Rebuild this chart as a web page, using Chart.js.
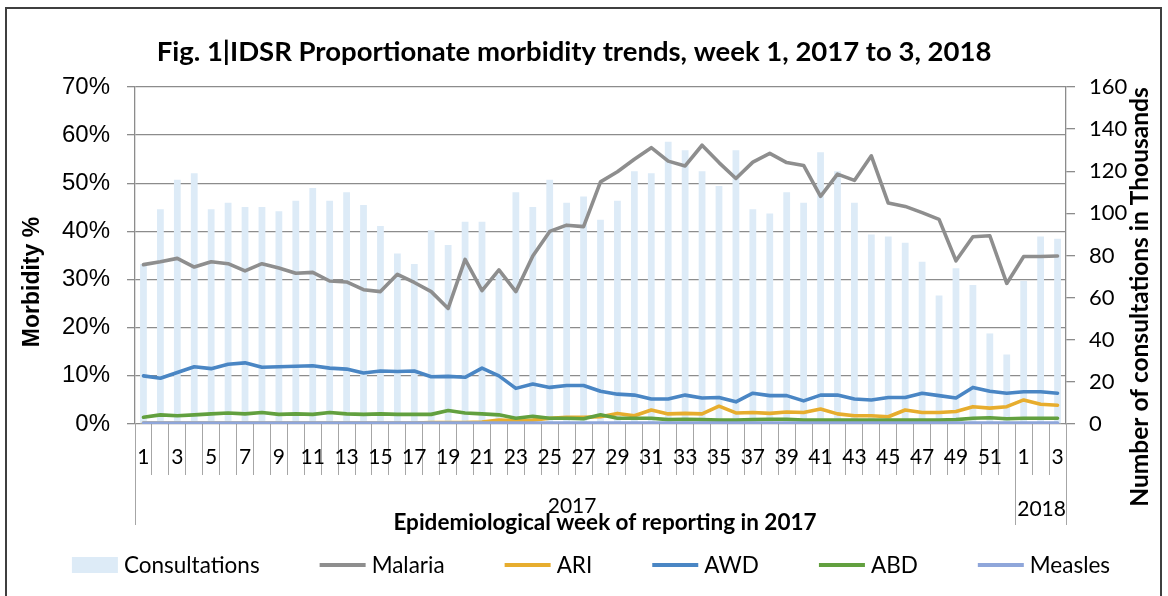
<!DOCTYPE html>
<html>
<head>
<meta charset="utf-8">
<script src="https://cdn.jsdelivr.net/npm/chart.js@4.4.0/dist/chart.umd.min.js"></script>
<style>
html,body{margin:0;padding:0;background:#fff;}
#wrap{width:1168px;height:596px;position:relative;overflow:hidden;}
</style>
</head>
<body>
<div id="wrap"><canvas id="c" width="1168" height="596"></canvas></div>
<script>
// ---- Data ----
const weekLabels = ['1','2','3','4','5','6','7','8','9','10','11','12','13','14','15','16','17','18','19','20',
  '21','22','23','24','25','26','27','28','29','30','31','32','33','34','35','36','37','38','39','40',
  '41','42','43','44','45','46','47','48','49','50','51','52','1','2','3'];
const yearGroups = ['2017','2018'];
const yearGroupCounts = [52, 3];

const consultations = [76,102,116,119,102,105,103,103,101,106,
  112,106,110,104,94,81,76,92,85,96,
  96,71,110,103,116,105,108,97,106,120,
  119,134,130,120,113,130,102,100,110,105,
  129,120,105,90,89,86,77,61,74,66,
  43,33,68,89,88];

const malaria = [33.1,33.7,34.4,32.6,33.7,33.3,31.8,33.3,32.4,31.3,
  31.5,29.7,29.5,27.9,27.5,31.1,29.4,27.5,24.0,34.2,
  27.7,32.0,27.5,34.9,40.0,41.3,41.0,50.3,52.4,55.0,
  57.4,54.6,53.6,57.9,54.3,51.0,54.4,56.2,54.3,53.7,
  47.3,51.9,50.6,55.7,45.9,45.2,43.9,42.5,33.9,38.9,
  39.1,29.2,34.8,34.8,34.9];

const ari = [0.2,0.2,0.2,0.2,0.2,0.2,0.2,0.2,0.2,0.2,
  0.2,0.2,0.2,0.2,0.2,0.2,0.2,0.3,0.3,0.3,
  0.4,0.8,0.7,0.8,1.2,1.4,1.4,1.5,2.2,1.7,
  2.9,2.1,2.2,2.1,3.7,2.3,2.4,2.2,2.5,2.4,
  3.1,2.1,1.7,1.7,1.5,2.9,2.4,2.4,2.6,3.6,
  3.3,3.6,5.0,4.1,3.9];

const awd = [10.0,9.5,10.7,11.9,11.5,12.4,12.7,11.8,11.9,12.0,
  12.1,11.6,11.4,10.6,11.0,10.9,11.0,9.8,9.9,9.7,
  11.6,10.0,7.4,8.3,7.6,8.0,8.0,6.8,6.2,6.0,
  5.2,5.2,6.0,5.4,5.5,4.6,6.4,5.9,5.9,4.8,
  6.0,6.0,5.2,5.0,5.5,5.5,6.4,5.9,5.4,7.6,
  6.8,6.4,6.7,6.7,6.4];

const abd = [1.4,1.9,1.7,1.9,2.1,2.3,2.1,2.4,2.0,2.1,
  2.0,2.4,2.1,2.0,2.1,2.0,2.0,2.0,2.8,2.3,
  2.1,1.9,1.2,1.6,1.2,1.2,1.1,1.9,1.2,1.2,
  1.2,0.9,1.0,0.9,0.8,0.8,0.9,1.0,1.0,0.8,
  0.8,0.8,0.8,0.8,0.8,0.8,0.8,0.8,0.9,1.2,
  1.3,1.1,1.2,1.2,1.2];

const measles = [0.2,0.2,0.2,0.2,0.2,0.2,0.2,0.2,0.2,0.2,
  0.2,0.2,0.2,0.2,0.2,0.2,0.2,0.2,0.2,0.2,
  0.2,0.2,0.2,0.2,0.2,0.2,0.2,0.2,0.2,0.2,
  0.2,0.2,0.2,0.2,0.2,0.2,0.2,0.2,0.2,0.2,
  0.2,0.2,0.2,0.2,0.2,0.2,0.2,0.2,0.2,0.2,
  0.2,0.2,0.2,0.2,0.2];

const leftTicksMax = 70, leftStep = 10;
const rightTicksMax = 160, rightStep = 20;

const titleText = 'Fig. 1|IDSR Proportionate morbidity trends, week 1, 2017 to 3, 2018';
const xTitle = 'Epidemiological week of reporting in 2017';
const yTitle = 'Morbidity %';
const y1Title = 'Number of consultations in Thousands';

// ---- Styles ----
const COL = {
  bar: '#DDEBF7', malaria: '#8E8E8E', ari: '#E7AD2E', awd: '#4A86C4',
  abd: '#62A03F', measles: '#8FA6DA', grid: '#8C8C8C', tick: '#A6A6A6'
};
const CAL = 'Lato, "Open Sans", sans-serif';
const ARIAL = '"Liberation Sans", Arial, sans-serif';

function lineDs(label, data, color, order) {
  return { type: 'line', label, data, yAxisID: 'y', borderColor: color, backgroundColor: color,
    borderWidth: 3.6, pointRadius: 0, pointHoverRadius: 0, tension: 0, order,
    borderJoinStyle: 'round', borderCapStyle: 'round', pointStyle: 'line' };
}

const extras = {
  id: 'extras',
  afterDraw(chart) {
    const ctx = chart.ctx;
    const xs = chart.scales.x;
    const ca = chart.chartArea;
    ctx.save();
    // frame
    ctx.strokeStyle = '#3F3F3F';
    ctx.lineWidth = 2;
    ctx.beginPath();
    ctx.moveTo(6, 600); ctx.lineTo(6, 8); ctx.lineTo(1161, 8); ctx.lineTo(1161, 600);
    ctx.stroke();

    // group dividers
    const half = (xs.getPixelForValue(1) - xs.getPixelForValue(0)) / 2;
    let idx = 0;
    const bounds = [xs.getPixelForValue(0) - half];
    yearGroupCounts.forEach(n => { idx += n; bounds.push(xs.getPixelForValue(idx - 1) + half); });
    ctx.strokeStyle = COL.tick;
    ctx.lineWidth = 1;
    bounds.forEach(b => {
      ctx.beginPath(); ctx.moveTo(Math.round(b) + 0.5, ca.bottom); ctx.lineTo(Math.round(b) + 0.5, 525); ctx.stroke();
    });
    ctx.fillStyle = '#000';
    ctx.textAlign = 'center';
    ctx.textBaseline = 'middle';
    ctx.font = '21px ' + CAL;
    yearGroups.forEach((g, i) => {
      ctx.fillText(g, (bounds[i] + bounds[i + 1]) / 2 + (i === 1 ? 1 : -3), i === 0 ? 506 : 509);
    });

    // axis titles
    ctx.font = 'bold 22.5px ' + CAL;
    ctx.fillText(xTitle, 605, 523);

    ctx.save();
    ctx.translate(33, 282);
    ctx.rotate(-Math.PI / 2);
    ctx.font = 'bold 23px ' + ARIAL;
    ctx.fillText(yTitle, 0, 0);
    ctx.restore();

    ctx.save();
    ctx.translate(1140, 297);
    ctx.rotate(-Math.PI / 2);
    ctx.font = 'bold 24.5px ' + CAL;
    ctx.fillText(y1Title, 0, 0);
    ctx.restore();

    // title
    ctx.font = 'bold 27.5px ' + CAL;
    ctx.fillText(titleText, 574, 52);

    // legend
    const order = [5, 0, 1, 2, 3, 4];
    ctx.font = '22.5px ' + CAL;
    const boxW = 46, gapT = 6, spacing = 60;
    const widths = order.map(i => boxW + gapT + ctx.measureText(chart.data.datasets[i].label).width);
    const total = widths.reduce((a, b) => a + b, 0) + spacing * (order.length - 1);
    let x = 591 - total / 2;
    const ly = 565;
    ctx.textAlign = 'left';
    order.forEach((i, k) => {
      const ds = chart.data.datasets[i];
      if (ds.type === 'bar') {
        ctx.fillStyle = ds.backgroundColor;
        ctx.fillRect(x, ly - 8, boxW, 16);
      } else {
        ctx.strokeStyle = ds.borderColor;
        ctx.lineWidth = 4;
        ctx.lineCap = 'butt';
        ctx.beginPath(); ctx.moveTo(x, ly); ctx.lineTo(x + boxW, ly); ctx.stroke();
      }
      ctx.fillStyle = '#000';
      ctx.fillText(ds.label, x + boxW + gapT, ly + 1);
      x += widths[k] + spacing;
    });
    ctx.restore();
  }
};

function build() {
  new Chart(document.getElementById('c'), {
    type: 'bar',
    data: {
      labels: weekLabels,
      datasets: [
        lineDs('Malaria', malaria, COL.malaria, 5),
        lineDs('ARI', ari, COL.ari, 4),
        lineDs('AWD', awd, COL.awd, 3),
        lineDs('ABD', abd, COL.abd, 2),
        lineDs('Measles', measles, COL.measles, 1),
        { type: 'bar', label: 'Consultations', data: consultations, yAxisID: 'y1',
          backgroundColor: COL.bar, borderWidth: 0, barPercentage: 0.4, categoryPercentage: 1,
          order: 10, pointStyle: 'rect' }
      ]
    },
    options: {
      responsive: false,
      animation: false,
      events: [],
      layout: { padding: { top: 87, left: 0, right: 0, bottom: 0 } },
      plugins: { legend: { display: false }, title: { display: false }, tooltip: { enabled: false } },
      scales: {
        x: {
          offset: true,
          grid: { offset: true, drawOnChartArea: false, drawTicks: true, tickLength: 51, color: COL.tick, lineWidth: 1 },
          border: { display: false },
          ticks: { autoSkip: false, maxRotation: 0, minRotation: 0, padding: -30, color: '#000',
            font: { family: CAL, size: 21 },
            callback: (v, i) => (i % 2 === 0 ? weekLabels[i] : '') },
          afterFit: s => { s.height = 172; }
        },
        y: {
          position: 'left', min: 0, max: leftTicksMax,
          grid: { color: COL.grid, lineWidth: 1.3, tickLength: 8, drawTicks: true },
          border: { display: true, color: COL.grid, width: 1.3 },
          ticks: { stepSize: leftStep, padding: 17, color: '#000', font: { family: ARIAL, size: 24 },
            callback: v => v + '%' },
          afterFit: s => { s.width = 135; }
        },
        y1: {
          position: 'right', min: 0, max: rightTicksMax,
          grid: { drawOnChartArea: false, tickLength: 9, color: COL.grid, lineWidth: 1.3 },
          border: { display: true, color: COL.grid, width: 1.3 },
          ticks: { stepSize: rightStep, padding: 14, color: '#000', font: { family: CAL, size: 22 } },
          afterFit: s => { s.width = 102; }
        }
      }
    },
    plugins: [extras]
  });
}

const fontLoads = ['21px Lato', 'bold 21px Lato', '22px Lato', 'bold 25px Lato', '24px "Liberation Sans"', 'bold 21px "Liberation Sans"']
  .map(f => document.fonts.load(f).catch(() => null));
Promise.all(fontLoads).then(build, build);
</script>
</body>
</html>
